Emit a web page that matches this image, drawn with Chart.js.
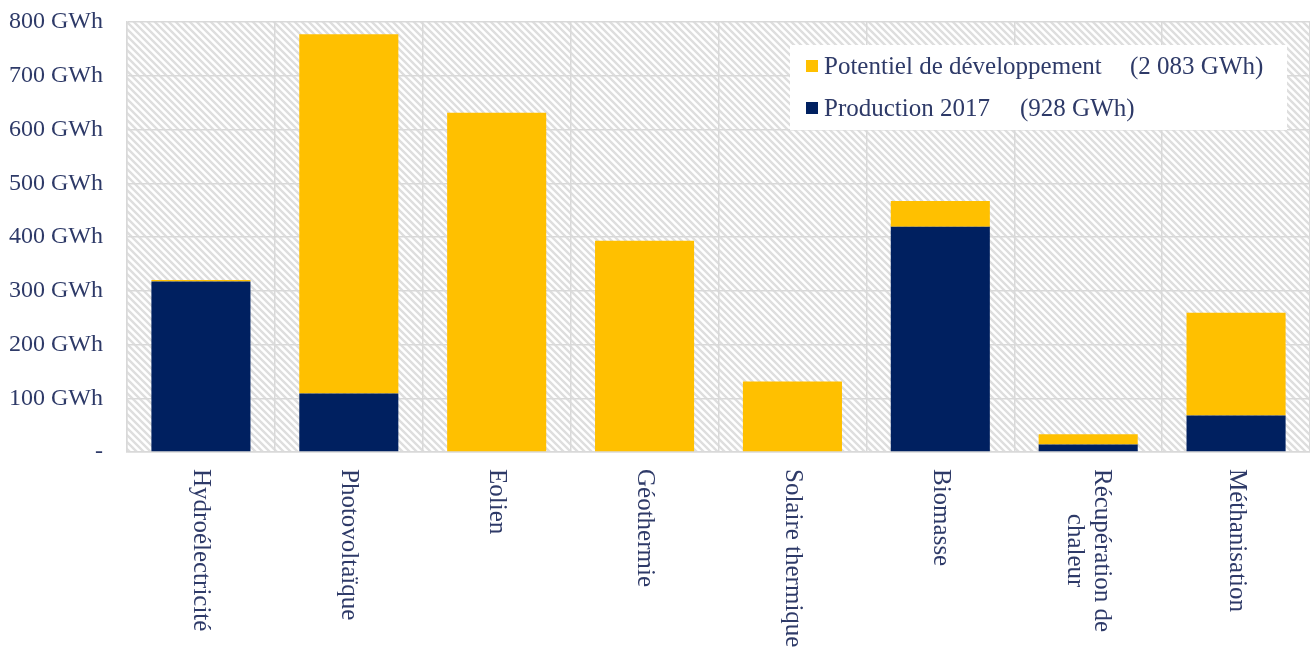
<!DOCTYPE html>
<html>
<head>
<meta charset="utf-8">
<script src="https://cdn.jsdelivr.net/npm/chart.js@4"></script>
<style>
  body { margin: 0; background: #fff; }
  #chart { display: block; }
</style>
</head>
<body>
<canvas id="chart" width="1310" height="649"></canvas>
<script>
const categories = ['Hydroélectricité', 'Photovoltaïque', 'Eolien', 'Géothermie', 'Solaire thermique', 'Biomasse', ['Récupération de', 'chaleur'], 'Méthanisation'];
const production = [317, 109, 0, 0, 0, 419, 14, 68];
const potentiel = [3, 668, 631, 393, 131, 48, 19, 191];
const yTicks = [0, 100, 200, 300, 400, 500, 600, 700, 800];
const legendItems = [
    { text: 'Potentiel de développement', total: '(2 083 GWh)', color: '#FFC000' },
    { text: 'Production 2017', total: '(928 GWh)', color: '#002060' }
];

const TEXT = '#2e3a68';
const FONT = 'Liberation Serif';

// hatched background for the plot area
function makeHatch() {
    const s = 7;
    const c = document.createElement('canvas');
    c.width = s; c.height = s;
    const g = c.getContext('2d');
    g.fillStyle = '#fff';
    g.fillRect(0, 0, s, s);
    g.strokeStyle = '#dedede';
    g.lineWidth = 2.4;
    g.beginPath();
    g.moveTo(-s, 0); g.lineTo(s, 2 * s);
    g.moveTo(0, 0); g.lineTo(s, s);
    g.moveTo(0, -s); g.lineTo(2 * s, s);
    g.stroke();
    return g.createPattern(c, 'repeat');
}

const hatchBg = {
    id: 'hatchBg',
    beforeDraw(chart) {
        const { ctx, chartArea: a } = chart;
        ctx.save();
        ctx.fillStyle = makeHatch();
        ctx.fillRect(a.left, a.top, a.right - a.left, a.bottom - a.top);
        ctx.restore();
    }
};

const customLegend = {
    id: 'customLegend',
    afterDatasetsDraw(chart) {
        const ctx = chart.ctx;
        ctx.save();
        ctx.fillStyle = '#fff';
        ctx.fillRect(790, 45, 497, 85);
        ctx.font = '25px "' + FONT + '"';
        ctx.textBaseline = 'middle';
        const rows = [66, 108];
        const totalsX = [1130, 1020];
        legendItems.forEach((it, i) => {
            ctx.fillStyle = it.color;
            ctx.fillRect(806, rows[i] - 6, 12, 12);
            ctx.fillStyle = TEXT;
            ctx.textAlign = 'left';
            ctx.fillText(it.text, 824, rows[i] + 1);
            ctx.fillText(it.total, totalsX[i], rows[i] + 1);
        });
        ctx.restore();
    }
};

// x labels rotated clockwise, reading top to bottom
const rotatedLabels = {
    id: 'rotatedLabels',
    afterDraw(chart) {
        const ctx = chart.ctx;
        const xs = chart.scales.x;
        const top = chart.chartArea.bottom + 17;
        const lh = 27;
        ctx.save();
        ctx.font = '25px "' + FONT + '"';
        ctx.fillStyle = TEXT;
        ctx.textAlign = 'center';
        ctx.textBaseline = 'middle';
        categories.forEach((lab, i) => {
            const lines = Array.isArray(lab) ? lab : [lab];
            const w = Math.max(...lines.map(l => ctx.measureText(l).width));
            const cx = xs.getPixelForValue(i);
            ctx.save();
            ctx.translate(cx, top);
            ctx.rotate(Math.PI / 2);
            lines.forEach((l, j) => {
                ctx.fillText(l, w / 2, (j - (lines.length - 1) / 2) * lh);
            });
            ctx.restore();
        });
        ctx.restore();
    }
};

new Chart(document.getElementById('chart').getContext('2d'), {
    type: 'bar',
    data: {
        labels: categories,
        datasets: [
            { label: 'Production 2017', data: production, backgroundColor: '#002060', barPercentage: 0.67, categoryPercentage: 1 },
            { label: 'Potentiel de développement', data: potentiel, backgroundColor: '#FFC000', barPercentage: 0.67, categoryPercentage: 1 }
        ]
    },
    options: {
        responsive: false,
        animation: false,
        devicePixelRatio: 1,
        layout: { padding: { top: 22, right: 0, left: 0, bottom: 0 } },
        plugins: { legend: { display: false }, tooltip: { enabled: false } },
        scales: {
            x: {
                stacked: true,
                afterFit: s => { s.height = 197; s.paddingLeft = 0; s.paddingRight = 0; },
                ticks: { display: false },
                grid: { color: '#d9d9d9', lineWidth: 1.5, drawTicks: false, offset: true },
                border: { color: '#d9d9d9', width: 1.5 }
            },
            y: {
                stacked: true,
                min: 0,
                max: 800,
                afterFit: s => { s.width = 127; s.paddingTop = 0; s.paddingBottom = 0; },
                afterBuildTicks: s => { s.ticks = yTicks.map(v => ({ value: v })); },
                ticks: {
                    padding: 24,
                    color: TEXT,
                    font: { family: FONT, size: 24 },
                    callback: v => v === 0 ? '-' : v + ' GWh'
                },
                grid: { color: '#d9d9d9', lineWidth: 1.5, drawTicks: false },
                border: { color: '#d9d9d9', width: 1.5 }
            }
        }
    },
    plugins: [hatchBg, customLegend, rotatedLabels]
});
</script>
</body>
</html>
